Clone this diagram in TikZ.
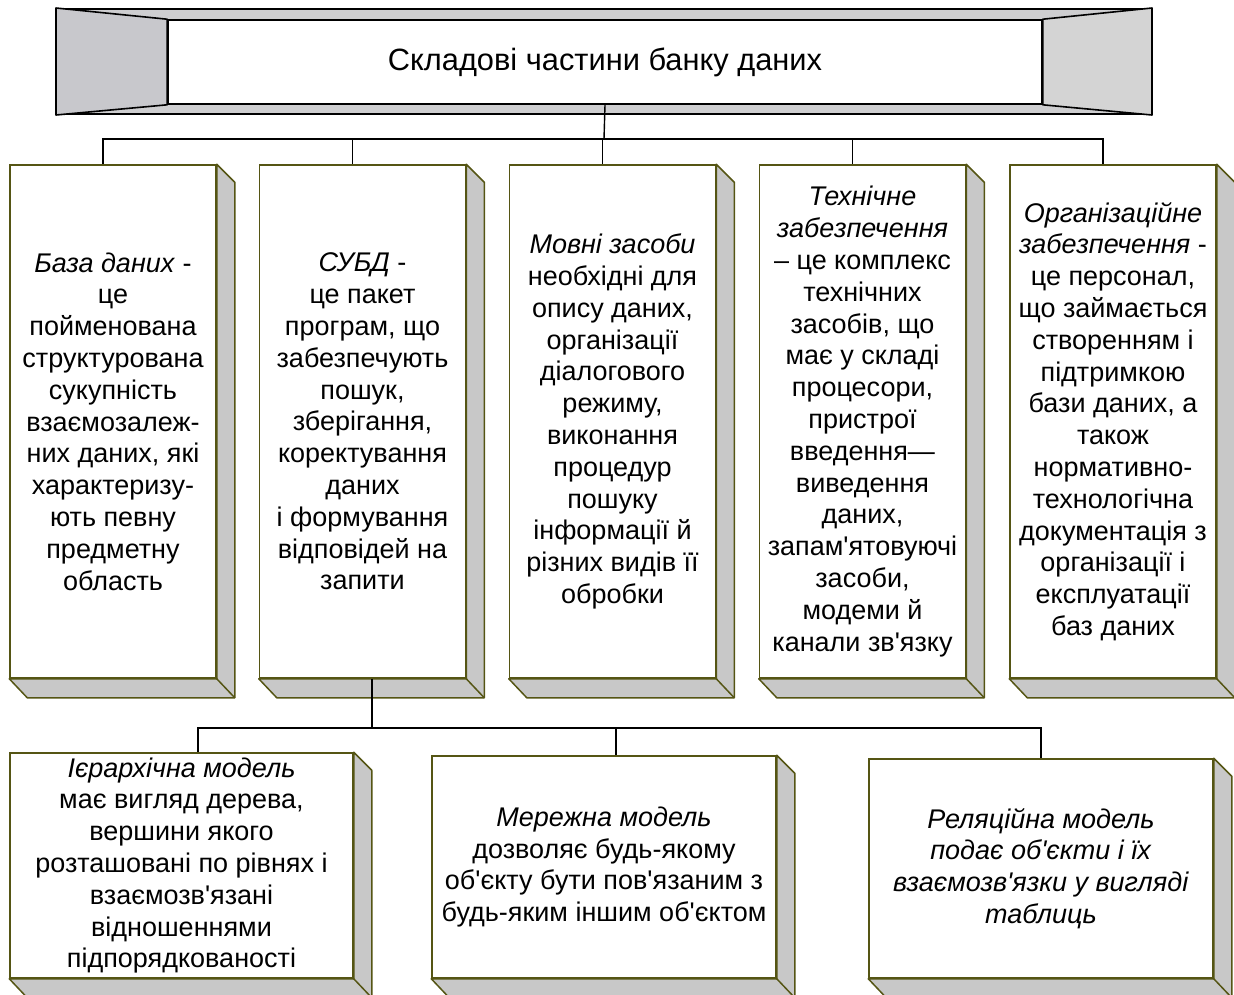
\documentclass[tikz,border=0pt]{standalone}
\usepackage{fontspec}
\setmainfont{Liberation Sans}[Ligatures=TeXOff]
\definecolor{olyva}{RGB}{85,85,20}
\definecolor{siryj}{RGB}{200,200,200}
\definecolor{smuha}{RGB}{206,206,208}
\definecolor{livyj}{RGB}{200,200,204}
\definecolor{pravyj}{RGB}{212,212,212}
\newcommand{\hrani}[1]{%
  \filldraw[hrany] (#1.north east) -- ++(18,18) -- ([shift={(18,19)}]#1.south east)
    -- ([shift={(18,19)}]#1.south west) -- (#1.south west) -- (#1.south east) -- cycle;
  \draw[hrany] (#1.south east) -- ++(18,19);}

\begin{document}
\begin{tikzpicture}[x=1pt,y=-1pt,
  every node/.style={font=\fontsize{27}{31.8}\selectfont,align=center,inner sep=0pt},
  blok/.style={draw=olyva,line width=1.5pt,fill=white},
  verh/.style={blok,minimum width=206pt,minimum height=513pt},
  niz/.style={blok,minimum width=344pt},
  hrany/.style={draw=olyva,line width=1.5pt,fill=siryj,line join=round},
  lin/.style={line width=1.4pt}]
\clip (0,0) rectangle (1234,994);

\node[draw,line width=2pt,fill=smuha,minimum width=1094pt,minimum height=105pt] (ramka) at (604,61.5) {};
\node[draw,line width=1.6pt,fill=white,minimum width=874pt,minimum height=84pt,
  font=\fontsize{30.8}{36}\selectfont] (tytul) at (605,62)
  {Складові частини банку даних};
\filldraw[fill=livyj,line width=1.6pt,line join=round] (ramka.north west) -- (tytul.north west)
  -- (tytul.south west) -- (ramka.south west) -- cycle;
\filldraw[fill=pravyj,line width=1.6pt,line join=round] (ramka.north east) -- (tytul.north east)
  -- (tytul.south east) -- (ramka.south east) -- cycle;

\node[verh] (baza) at (113,421.5)
  {\textit{База даних} -\\це\\пойменована\\структурована\\сукупність\\взаємозалеж-\\них даних, які\\характеризу-\\ють певну\\предметну\\область};
\node[verh] (subd) at (362.5,421.5)
  {\textit{СУБД} -\\це пакет\\програм, що\\забезпечують\\пошук,\\зберігання,\\коректування\\даних\\і формування\\відповідей на\\запити};
\node[verh] (movni) at (612.5,421.5)
  {\textit{Мовні засоби}\\необхідні для\\опису даних,\\організації\\діалогового\\режиму,\\виконання\\процедур\\пошуку\\інформації й\\різних видів її\\обробки};
\node[verh] (tekhn) at (862.5,421.5)
  {\textit{Технічне}\\\textit{забезпечення}\\– це комплекс\\технічних\\засобів, що\\має у складі\\процесори,\\пристрої\\введення—\\виведення\\даних,\\запам'ятовуючі\\засоби,\\модеми й\\канали зв'язку};
\node[verh] (orhan) at (1113,421.5)
  {\textit{Організаційне}\\\textit{забезпечення} -\\це персонал,\\що займається\\створенням і\\підтримкою\\бази даних, а\\також\\нормативно-\\технологічна\\документація з\\організації і\\експлуатації\\баз даних};

\node[niz,minimum width=343pt,minimum height=225pt] (iererkh) at (181.5,865.5)
  {\textit{Ієрархічна модель}\\має вигляд дерева,\\вершини якого\\розташовані по рівнях і\\взаємозв'язані\\відношеннями\\підпорядкованості};
\node[niz,minimum height=222pt] (merezh) at (604,867)
  {\textit{Мережна модель}\\дозволяє будь-якому\\об'єкту бути пов'язаним з\\будь-яким іншим об'єктом};
\node[niz,minimum height=219pt] (relats) at (1041,868.5)
  {\textit{Реляційна модель}\\\textit{подає об'єкти і їх}\\\textit{взаємозв'язки у вигляді}\\\textit{таблиць}};

\foreach \b in {baza,subd,movni,tekhn,orhan,iererkh,merezh,relats} \hrani{\b};

\coordinate (shyna) at (604,139);
\coordinate (shyna2) at (372,728);
\draw[lin] (tytul.south) -- (shyna);
\foreach \b in {baza,subd,movni,tekhn,orhan}
  \draw[lin] (shyna) -| ([xshift=-10pt]\b.north);
\draw[lin] ([xshift=9.5pt]subd.south) -- (shyna2);
\draw[lin] (shyna2) -| ([xshift=16.5pt]iererkh.north);
\draw[lin] (shyna2) -| ([xshift=12pt]merezh.north);
\draw[lin] (shyna2) -| (relats.north);
\end{tikzpicture}
\end{document}
